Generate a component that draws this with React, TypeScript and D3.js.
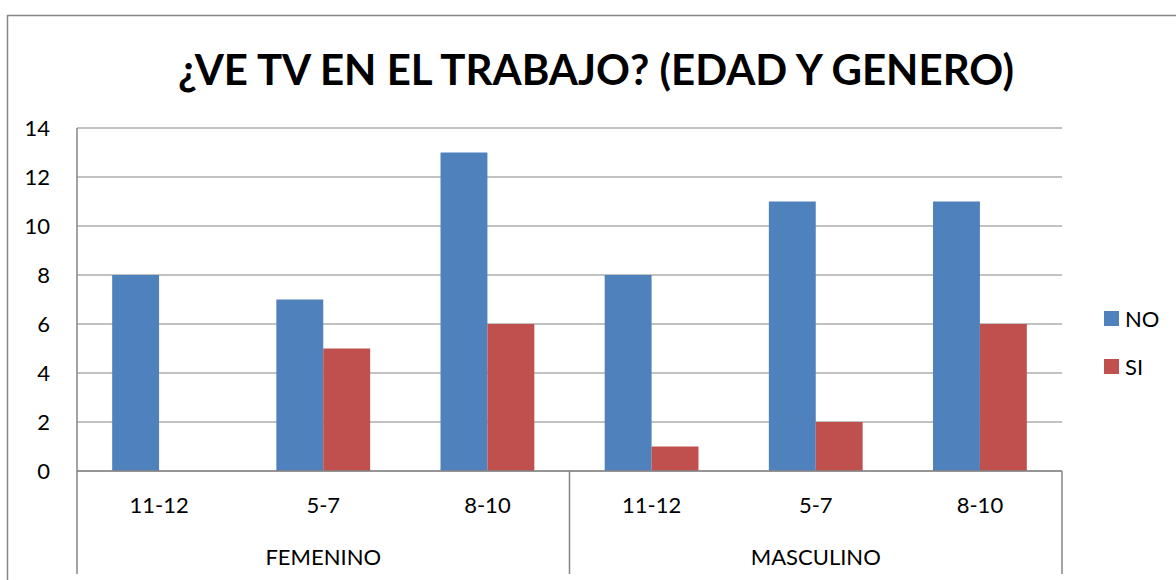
import React, { useEffect, useRef } from 'react';
import * as d3 from 'd3';

// chart data
const genders = ['FEMENINO', 'MASCULINO'];
const ageGroups = ['11-12', '5-7', '8-10'];
const seriesNames = ['NO', 'SI'];
const noValues = [8, 7, 13, 8, 11, 11];
const siValues = [0, 5, 6, 1, 2, 6];
const yTicks = [0, 2, 4, 6, 8, 10, 12, 14];
const colors = ['#4F81BD', '#C0504D'];

const W = 1176;
const H = 580;

const App = () => {
  const ref = useRef<SVGSVGElement>(null);

  useEffect(() => {
    const svg = d3.select(ref.current);
    svg.selectAll('*').remove();

    const font = 'Lato, "Open Sans", sans-serif';
    const left = 77, right = 1062, top = 128, bottom = 471;

    // outer frame (cut off at right and bottom like the reference)
    svg.append('rect')
      .attr('x', 7.5).attr('y', 15.5)
      .attr('width', W).attr('height', H)
      .attr('fill', 'white').attr('stroke', '#868686').attr('stroke-width', 1.5);

    svg.append('text')
      .attr('x', 596).attr('y', 85)
      .attr('text-anchor', 'middle')
      .attr('font-family', font).attr('font-weight', 'bold').attr('font-size', 42)
      .text('¿VE TV EN EL TRABAJO? (EDAD Y GENERO)');

    const cats = genders.flatMap(g => ageGroups.map(a => `${g}|${a}`));
    const rows = cats.map((c, i) => ({ key: c, values: [noValues[i], siValues[i]] }));

    const x = d3.scaleBand().domain(cats).range([left, right]).paddingInner(0).paddingOuter(0);
    const bw = x.bandwidth();
    const x1 = d3.scaleBand().domain(seriesNames).range([bw * 0.2143, bw * 0.7857]).padding(0);
    const y = d3.scaleLinear().domain([0, 14]).range([bottom, top]);

    // gridlines
    svg.append('g').selectAll('line').data(yTicks).join('line')
      .attr('x1', left).attr('x2', right)
      .attr('y1', d => y(d)).attr('y2', d => y(d))
      .attr('stroke', '#868686').attr('stroke-width', 1.2);

    // y labels
    svg.append('g').selectAll('text').data(yTicks).join('text')
      .attr('x', 50).attr('y', d => y(d) + 8)
      .attr('text-anchor', 'end')
      .attr('font-family', font).attr('font-size', 22)
      .text(d => d);

    // bars
    svg.append('g').selectAll('g').data(rows).join('g')
      .attr('transform', d => `translate(${x(d.key)},0)`)
      .selectAll('rect')
      .data(d => d.values.map((v, i) => ({ s: seriesNames[i], v, i })))
      .join('rect')
      .attr('x', d => x1(d.s)!)
      .attr('width', x1.bandwidth())
      .attr('y', d => y(d.v))
      .attr('height', d => y(0) - y(d.v))
      .attr('fill', d => colors[d.i]);

    // axes lines
    svg.append('line')
      .attr('x1', left).attr('x2', left).attr('y1', top).attr('y2', 574)
      .attr('stroke', '#868686').attr('stroke-width', 1.5);
    svg.append('line')
      .attr('x1', left).attr('x2', right).attr('y1', bottom).attr('y2', bottom)
      .attr('stroke', '#868686').attr('stroke-width', 1.5);

    // group separators
    const gx = d3.scaleBand().domain(genders).range([left, right]);
    svg.append('g').selectAll('line').data(genders).join('line')
      .attr('x1', d => gx(d)! + gx.bandwidth()).attr('x2', d => gx(d)! + gx.bandwidth())
      .attr('y1', bottom).attr('y2', 574)
      .attr('stroke', '#868686').attr('stroke-width', 1.5);

    // category labels
    svg.append('g').selectAll('text').data(cats).join('text')
      .attr('x', d => x(d)! + bw / 2).attr('y', 513)
      .attr('text-anchor', 'middle')
      .attr('font-family', font).attr('font-size', 22)
      .text(d => d.split('|')[1]);

    svg.append('g').selectAll('text').data(genders).join('text')
      .attr('x', d => gx(d)! + gx.bandwidth() / 2).attr('y', 565)
      .attr('text-anchor', 'middle')
      .attr('font-family', font).attr('font-size', 22)
      .text(d => d);

    // legend
    const lg = svg.append('g').selectAll('g').data(seriesNames).join('g')
      .attr('transform', (d, i) => `translate(1104,${311 + i * 48})`);
    lg.append('rect').attr('width', 15).attr('height', 15).attr('fill', (d, i) => colors[i]);
    lg.append('text').attr('x', 21).attr('y', 16)
      .attr('font-family', font).attr('font-size', 22)
      .text(d => d);
  }, []);

  return <svg ref={ref} width={W} height={H} style={{ position: 'absolute', left: 0, top: 0 }} />;
};

export default App;
